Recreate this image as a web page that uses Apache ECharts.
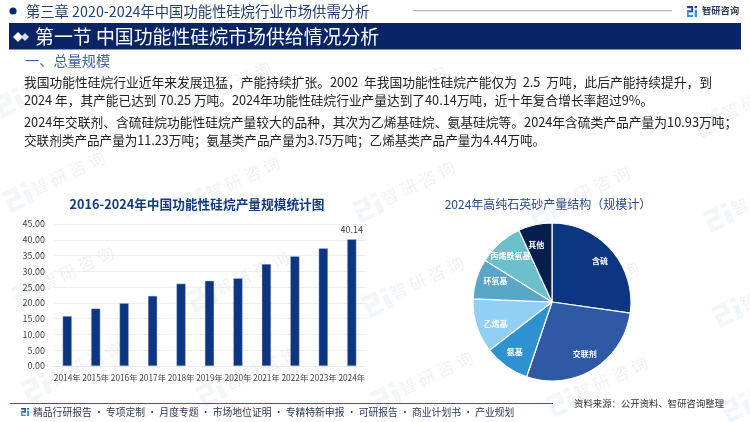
<!DOCTYPE html>
<html>
<head>
<meta charset="utf-8">
<style>html,body{margin:0;padding:0;background:#fff}#container{width:750px;height:422px}</style>
<script src="https://cdn.jsdelivr.net/npm/echarts@6/dist/echarts.min.js"></script>
</head>
<body>
<div id="container"></div>
<script>
var FONT = '"Noto Sans CJK SC"';

const years = ['2014年','2015年','2016年','2017年','2018年','2019年','2020年','2021年','2022年','2023年','2024年'];
const output = [15.8,18.2,19.9,22.2,26.1,27.0,27.8,32.3,34.8,37.3,40.14];

const sliceNames = ['含硫','交联剂','氨基','乙烯基','环氧基','丙烯酰氧基','其他'];
const sliceValues = [10.93,11.23,3.75,4.44,3.31,3.72,2.76];
const sliceColors = ['#0d3682','#2f59a5','#2e92d0','#92cff5','#58a6c8','#6cc0cb','#061f4c'];

const bodyLines = [
  '我国功能性硅烷行业近年来发展迅猛，产能持续扩张。2002  年我国功能性硅烷产能仅为  2.5  万吨，此后产能持续提升，到',
  '2024 年，其产能已达到 70.25 万吨。2024年功能性硅烷行业产量达到了40.14万吨，近十年复合增长率超过9%。',
  '2024年交联剂、含硫硅烷功能性硅烷产量较大的品种，其次为乙烯基硅烷、氨基硅烷等。2024年含硫类产品产量为10.93万吨；',
  '交联剂类产品产量为11.23万吨；氨基类产品产量为3.75万吨；乙烯基类产品产量为4.44万吨。'
];
var bodyY = [82, 100, 122, 140];
var bodySize = [12.75, 12.7, 12.75, 12.6];

function txt(text, x, y, size, color, extra) {
  return {
    type: 'text', x: x, y: y, silent: true,
    style: Object.assign({text: text, fontSize: size, fill: color, fontFamily: FONT, verticalAlign: 'middle'}, extra || {})
  };
}

// 智研 logo: two stacked bars and a stem
function logo(x, y, w, h, c1, c2, rot) {
  return {
    type: 'group', x: x, y: y, rotation: rot || 0, silent: true,
    children: [
      {type: 'rect', shape: {x: 0, y: 0, width: w * 0.6, height: h * 0.2}, style: {fill: c1}},
      {type: 'rect', shape: {x: w * 0.42, y: 0, width: w * 0.18, height: h * 0.55}, style: {fill: c1}},
      {type: 'rect', shape: {x: 0, y: h * 0.4, width: w * 0.6, height: h * 0.18}, style: {fill: c1}},
      {type: 'rect', shape: {x: 0, y: h * 0.4, width: w * 0.18, height: h * 0.6}, style: {fill: c2}},
      {type: 'rect', shape: {x: 0, y: h * 0.82, width: w * 0.6, height: h * 0.18}, style: {fill: c2}},
      {type: 'rect', shape: {x: w * 0.76, y: 0, width: w * 0.24, height: h * 0.2}, style: {fill: c1}},
      {type: 'rect', shape: {x: w * 0.76, y: h * 0.34, width: w * 0.24, height: h * 0.66}, style: {fill: c2}}
    ]
  };
}

var elements = [];

// watermark lattice
for (var r = -1; r <= 3; r++) {
  for (var c = -1; c <= 4; c++) {
    var wx = 68 + c * 175 + r * 9, wy = 173 + c * 5 + r * 95;
    elements.push({
      type: 'text', x: wx, y: wy, rotation: 0.44, silent: true,
      style: {text: '智 研 咨 询', fontSize: 17, fill: '#f0f2f6', fontFamily: FONT, align: 'center', verticalAlign: 'middle'}
    });
    elements.push(logo(wx - 66, wy + 20, 26, 22, '#f3f5f9', '#f1f6fa', 0.44));
  }
}

// header
elements.push({type: 'circle', shape: {cx: 13, cy: 11, r: 3.6}, style: {fill: '#0b2a6b'}});
elements.push(txt('第三章 2020-2024年中国功能性硅烷行业市场供需分析', 26, 11.5, 14.3, '#24406f'));
elements.push({type: 'rect', shape: {x: 413, y: 10, width: 259, height: 1.2}, style: {fill: '#a9b5d0'}});
elements.push(logo(687, 6, 10, 11, '#1f4a9c', '#2e9ad6'));
elements.push(txt('智研咨询', 702, 10.5, 9.3, '#2b3a55', {fontWeight: 'bold'}));
elements.push({type: 'rect', shape: {x: 9, y: 23, width: 732, height: 26.5}, style: {fill: '#0a2566'}});
elements.push({type: 'polygon', shape: {points: [[13,37],[18,32],[23,37],[18,42]]}, style: {fill: '#ffffff'}});
elements.push({type: 'polygon', shape: {points: [[21,37],[25,33],[29,37],[25,41]]}, style: {fill: '#d5dcea'}});
elements.push(txt('第一节 中国功能性硅烷市场供给情况分析', 35, 36.5, 18.9, '#ffffff'));
elements.push(txt('一、总量规模', 25, 61, 14.2, '#3f63ad'));

bodyLines.forEach(function (l, i) {
  elements.push(txt(l, 24, bodyY[i], bodySize[i], '#222222'));
});

// chart titles
elements.push(txt('2016-2024年中国功能性硅烷产量规模统计图', 197, 204, 12.7, '#123a80', {fontWeight: 'bold', align: 'center'}));
elements.push(txt('2024年高纯石英砂产量结构（规模计）', 548, 204, 12, '#2c4a86', {align: 'center'}));

// footer
elements.push({type: 'rect', shape: {x: 10, y: 403, width: 543, height: 1}, style: {fill: '#3a5a9a'}});
elements.push(logo(21, 408, 8, 8, '#1f4a9c', '#2e9ad6'));
elements.push(txt('精品行研报告 • 专项定制 • 月度专题 • 市场地位证明 • 专精特新申报 • 可研报告 • 商业计划书 • 产业规划', 33, 412, 9.8, '#2b3a55'));
elements.push(txt('资料来源：公开资料、智研咨询整理', 574, 403, 9.4, '#333333'));

var myChart = echarts.init(document.getElementById('container'), null, {renderer: 'canvas'});

var pieCenter = [552, 302];

var option = {
  backgroundColor: '#ffffff',
  animation: false,
  graphic: {elements: elements},
  grid: {left: 53, right: 384, top: 224, bottom: 56},
  xAxis: {
    type: 'category', data: years,
    axisLine: {lineStyle: {color: '#e6e8ec'}},
    axisTick: {show: false},
    axisLabel: {color: '#444', fontSize: 8.3, fontFamily: FONT, interval: 0, margin: 8}
  },
  yAxis: {
    type: 'value', min: 0, max: 45, interval: 5,
    axisLine: {show: false}, axisTick: {show: false},
    axisLabel: {color: '#444', fontSize: 9, fontFamily: FONT, margin: 8, formatter: function (v) { return v.toFixed(2); }},
    splitLine: {lineStyle: {color: '#eceef2', width: 1.2}}
  },
  series: [{
    type: 'bar', data: output, barWidth: 9.2,
    itemStyle: {color: '#0d3682', borderColor: '#b9c6e0', borderWidth: 0.4},
    label: {
      show: true, position: 'top', color: '#444', fontSize: 9, fontFamily: FONT, distance: 5,
      formatter: function (p) { return p.dataIndex === years.length - 1 ? p.value : ''; }
    }
  }, {
    type: 'pie', center: pieCenter, radius: [0, 79], startAngle: 90, clockwise: true,
    data: sliceNames.map(function (n, i) { return {name: n, value: sliceValues[i], itemStyle: {color: sliceColors[i]}}; }),
    itemStyle: {borderColor: '#ffffff', borderWidth: 1.2},
    label: {show: true, position: 'inside', color: '#ffffff', fontSize: 8, fontWeight: 'bold', fontFamily: FONT, formatter: '{b}'},
    labelLine: {show: false},
    // push labels out toward the rim, like the original
    labelLayout: function (p) {
      var mx = p.rect.x + p.rect.width / 2 - pieCenter[0];
      var my = p.rect.y + p.rect.height / 2 - pieCenter[1];
      return {dx: mx * 0.4, dy: my * 0.4};
    }
  }]
};

myChart.setOption(option);
window.addEventListener('resize', myChart.resize);
</script>
</body>
</html>
